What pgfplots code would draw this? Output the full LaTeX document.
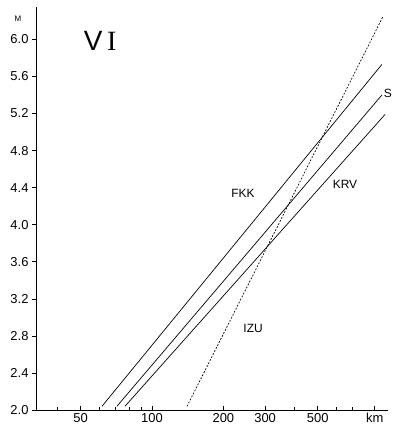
\documentclass[border=0pt]{standalone}
\usepackage{fontspec}
\setmainfont{Liberation Sans}
\newfontfamily\serifI{Liberation Serif}
\usepackage{pgfplots}
\pgfplotsset{compat=1.18}
\begin{document}
\begin{tikzpicture}
\begin{axis}[
  scale only axis, width=352bp, height=403bp,
  xmode=log, xmin=32.4, xmax=990, ymin=2.0, ymax=6.35,
  axis x line*=bottom, axis y line*=left,
  axis line style={line width=0.9pt},
  xtick={50,100,200,300,500,870},
  xticklabels={50,100,200,300,500,km},
  minor xtick={40,60,70,80,90,400,600,700},
  ytick={2.0,2.4,...,6.01},
  yticklabel style={/pgf/number format/.cd,fixed,fixed zerofill,precision=1},
  /pgf/number format/assume math mode=true,
  tick label style={font=\fontsize{13}{15}\selectfont},
  tick style={black, line width=0.6pt},
  major tick length=4bp, minor tick length=3bp,
  xtick align=inside, ytick align=outside,
  log ticks with fixed point,
  clip=false,
]
\addplot[black, line width=0.7pt] coordinates {(61.5,2.04) (933,5.73)};
\addplot[black, line width=0.7pt] coordinates {(71.1,2.04) (933,5.40)};
\addplot[black, line width=0.7pt] coordinates {(76.9,2.04) (962,5.19)};
\addplot[black, line width=0.7pt, dash pattern=on 1.8pt off 1.6pt] coordinates {(140.5,2.04) (944,6.25)};
\node[font=\fontsize{28}{30}\selectfont] at (axis cs:60.4,5.98) {V\,{\serifI I}};
\node[font=\fontsize{12}{14}\selectfont] at (axis cs:242,4.34) {FKK};
\node[font=\fontsize{12}{14}\selectfont] at (axis cs:652,4.44) {KRV};
\node[font=\fontsize{12}{14}\selectfont] at (axis cs:267,2.88) {IZU};
\node[font=\fontsize{12}{14}\selectfont, anchor=west, inner sep=0pt] at (axis cs:950,5.42) {S};
\node[font=\fontsize{8}{9}\selectfont] at ([xshift=-18bp,yshift=-12bp]rel axis cs:0,1) {M};
\end{axis}
\pgfresetboundingbox
\path (-36bp,-25bp) rectangle (357bp,410bp);
\end{tikzpicture}
\end{document}
